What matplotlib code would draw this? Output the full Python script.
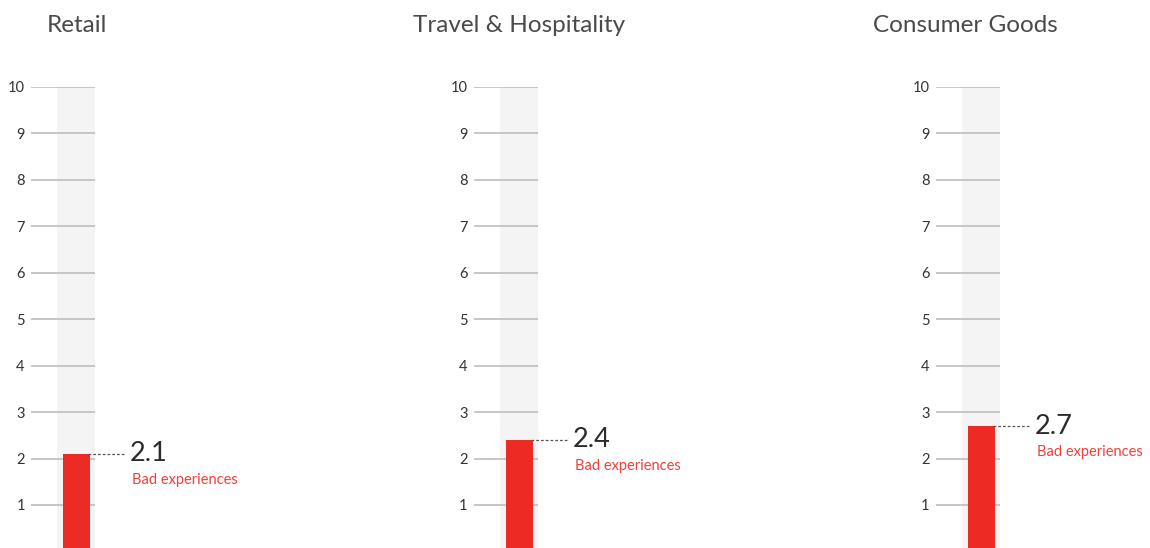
import matplotlib.pyplot as plt

plt.rcParams['font.family'] = ['Lato', 'DejaVu Sans']

categories = ["Retail", "Travel & Hospitality", "Consumer Goods"]
scores = [2.1, 2.4, 2.7]
series_label = "Bad experiences"
ticks = [1, 2, 3, 4, 5, 6, 7, 8, 9, 10]

W, H = 1150, 548
fig = plt.figure(figsize=(W / 100, H / 100), dpi=100)

# panel layout in pixels: grey column left edge, title left x
column_left = [57, 500, 962]
title_left = [47, 413, 873]
grid_w = 64
col_px = 38                      # one x-unit = width of the grey column
y_top, px_per_unit = 87, (505 - 87) / 9
y_zero = y_top + 10 * px_per_unit

RED = "#ee2a24"
LABEL_RED = "#f0403a"
GRID = "#b8b8b8"
COLUMN = "#f4f4f4"

for cat, val, cx, tx in zip(categories, scores, column_left, title_left):
    gx = cx - (grid_w - col_px)
    ax = fig.add_axes([gx / W, (H - y_zero) / H, grid_w / W, (y_zero - y_top) / H])
    ax.set_xlim(-(grid_w - col_px) / col_px - 0.5, 0.5)
    ax.set_ylim(0, 10)
    for s in ax.spines.values():
        s.set_visible(False)
    ax.set_xticks([])
    ax.set_yticks(ticks)
    ax.set_yticklabels([str(t) for t in ticks], fontsize=10.5, color="#333333")
    ax.tick_params(axis="y", length=0, pad=4.5)

    ax.bar(0, 10, width=1.0, color=COLUMN, zorder=0)
    for t in ticks:
        ax.axhline(t, color=GRID, lw=1.1, zorder=1)
    ax.bar(0, val, width=27 / col_px, color=RED, zorder=2)

    bar_right = 27 / col_px / 2
    ax.plot([bar_right - 0.05, bar_right + 0.97], [val, val], ls=(0, (2.2, 1.6)),
            color="#555555", lw=0.9, clip_on=False, zorder=3)
    ax.text(bar_right + 1.07, val, f"{val:.1f}", fontsize=19.5, color="#2b2b2b",
            va="center", ha="left", clip_on=False)
    ax.annotate(series_label, xy=(bar_right + 1.11, val), xytext=(0, -19),
                textcoords="offset points", fontsize=10.5, color=LABEL_RED,
                va="center", ha="left", annotation_clip=False)

    fig.text(tx / W, 1 - 25 / H, cat, fontsize=17.5, color="#4a4a4a",
             ha="left", va="center")

fig.savefig("out.png", dpi=100, facecolor="white")
